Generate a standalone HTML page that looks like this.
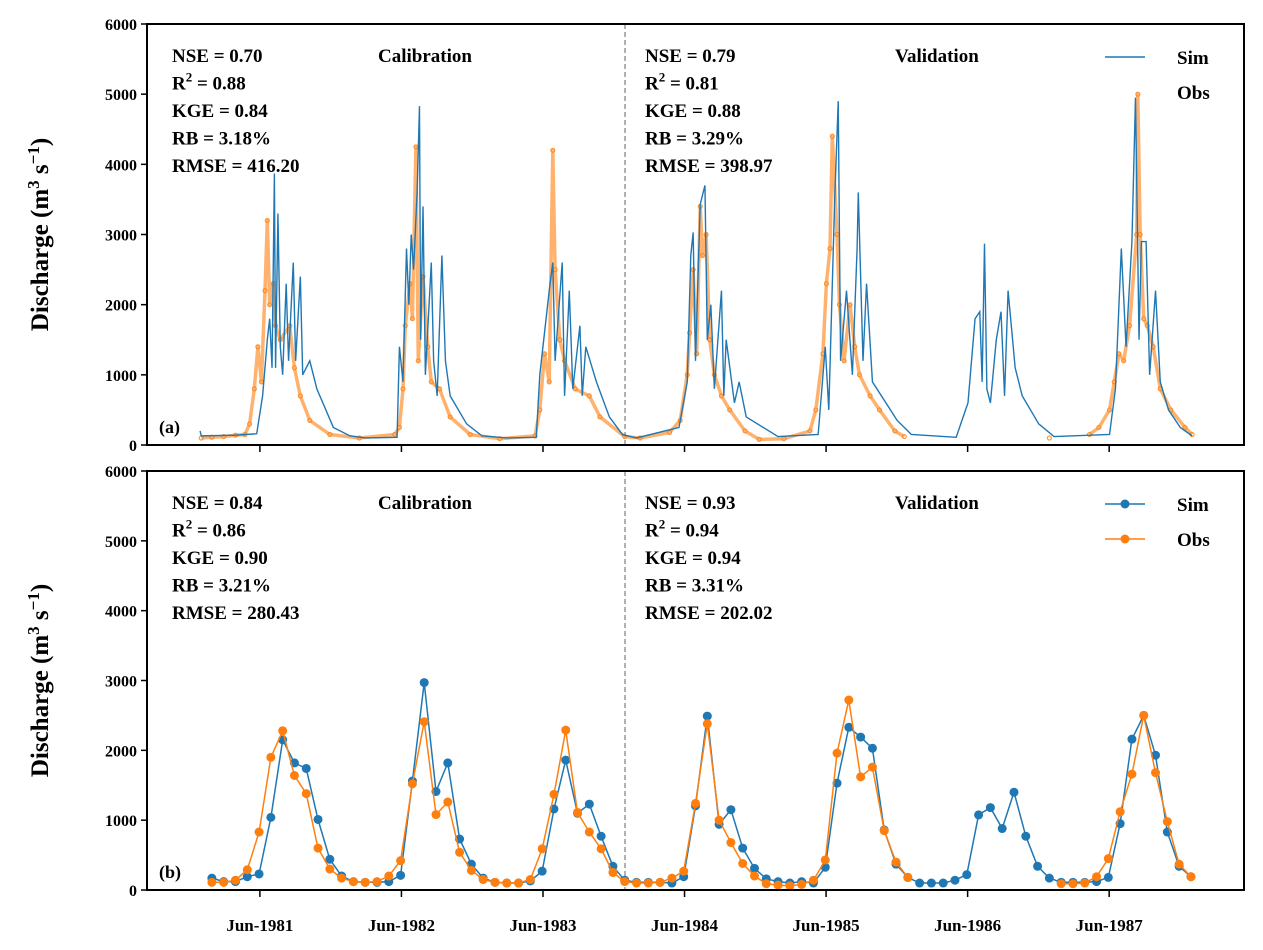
<!DOCTYPE html>
<html><head><meta charset="utf-8"><style>
body{margin:0;background:#fff}
svg{display:block;font-family:"Liberation Serif",serif;font-weight:bold}
</style></head><body>
<svg id="chart" width="1263" height="950"></svg>
<script>
// ---- data ----
const simDailyT=[-1,-0.9,2,3.8,4.3,4.7,4.9,5.1,5.3,5.4,5.6,5.8,6.0,6.3,6.5,6.9,7.1,7.5,7.7,8.3,8.9,10.3,11.7,13,15.7,15.9,16.2,16.5,16.7,16.9,17.1,17.4,17.6,17.7,17.9,18.1,18.6,18.8,19.1,19.5,19.8,20.2,21.6,22.9,25,27.5,27.8,28.6,28.9,29.1,29.7,29.9,30.3,30.6,31.2,31.4,31.7,32.6,33.7,34.8,36,39.6,40.3,40.6,40.8,41.0,41.4,41.8,42.0,42.3,42.6,43.2,43.4,43.6,44.3,44.7,45.3,48.0,51.4,52.0,52.3,52.8,53.1,53.3,53.8,54.3,54.7,54.8,55.2,55.5,56.0,58.1,59.3,63.1,64.1,64.7,65.1,65.3,65.5,65.7,66.0,66.5,66.9,67.2,67.5,68.1,68.7,70.1,71.4,76.1,76.6,77.1,77.5,78.0,78.3,78.6,78.8,79.2,79.5,80.0,80.4,81.1,82.1,83.1];
const simDailyV=[200,130,140,160,700,1500,1800,1100,3870,1100,3300,1400,1000,2300,1200,2600,1200,2400,1000,1200,800,250,130,100,110,1400,900,2800,2000,3000,2500,3600,4830,1500,3400,1000,2600,1200,700,2700,1200,700,300,130,100,110,1000,2200,2600,1200,2600,700,2200,800,1700,700,1400,900,400,150,100,250,900,2700,3030,1200,3430,3700,1500,2000,800,2200,700,1500,600,900,400,120,150,1400,500,3500,4900,1200,2200,1000,2800,3600,1200,2300,900,350,150,110,600,1800,1900,900,2870,800,600,1500,1900,700,2200,1100,700,300,120,150,800,2800,1400,2900,4950,1500,2900,2900,1000,2200,900,500,250,130];
const obsDailyT=[-0.9,0,1,2,2.8,3.2,3.6,3.9,4.2,4.5,4.7,4.9,5.2,5.4,5.8,6.6,7.0,7.5,8.3,10.0,12.5,15.5,15.9,16.2,16.4,16.8,17.0,17.3,17.5,17.9,18.3,18.6,19.3,20.2,21.9,24.4,27.4,27.8,28.2,28.6,28.9,29.1,29.5,29.9,30.8,32.0,32.9,35.0,36.3,38.8,39.7,40.3,40.5,40.8,41.1,41.4,41.6,41.9,42.2,42.6,43.2,43.9,45.2,46.4,48.5,50.7,51.2,51.8,52.1,52.4,52.6,53.0,53.2,53.6,54.1,54.5,54.9,55.8,56.6,57.9,58.7,71.0,74.4,75.2,76.1,76.5,76.9,77.3,77.8,78.4,78.5,78.7,79.0,79.3,79.8,80.4,81.3,82.5,83.1];
const obsDailyV=[100,110,120,140,150,300,800,1400,900,2200,3200,2000,2300,1700,1500,1700,1100,700,350,150,100,150,250,800,1700,2300,1800,4250,1200,2400,1400,900,800,400,150,90,130,500,1300,900,4200,2500,1500,1200,800,700,400,120,100,180,350,1000,1600,2500,1300,3400,2700,3000,1500,1000,700,500,200,80,90,200,500,1300,2300,2800,4400,3000,2000,1200,2000,1400,1000,700,500,200,120,100,150,250,500,900,1300,1200,1700,3000,5000,3000,1800,1700,1400,800,500,250,150];
const simMonthly=[170,120,120,190,230,1040,2150,1820,1740,1010,440,200,120,110,110,120,210,1560,2970,1410,1820,730,370,170,110,100,100,130,270,1160,1860,1100,1230,770,340,140,110,110,110,100,190,1205,2490,940,1150,600,310,160,120,100,120,100,325,1530,2330,2190,2030,860,370,180,100,100,100,140,220,1075,1180,880,1400,770,340,170,110,110,110,120,180,950,2160,2500,1930,830,340,190];
const obsMonthly=[110,110,140,290,830,1900,2280,1640,1380,600,300,170,120,110,120,200,420,1520,2410,1080,1260,540,280,150,110,100,100,150,590,1370,2290,1110,830,590,250,120,100,100,110,170,270,1240,2380,1000,680,380,200,90,70,60,80,140,430,1960,2720,1620,1760,850,400,180,null,null,null,null,null,null,null,null,null,null,null,null,90,90,100,190,450,1120,1660,2500,1680,980,370,190];
const yTicks=[0,1000,2000,3000,4000,5000,6000];
const xTickLabels=["Jun-1981","Jun-1982","Jun-1983","Jun-1984","Jun-1985","Jun-1986","Jun-1987"];
const statsA=["NSE = 0.70","R²|0.88","KGE = 0.84","RB = 3.18%","RMSE = 416.20"];
const statsA2=["NSE = 0.79","R²|0.81","KGE = 0.88","RB = 3.29%","RMSE = 398.97"];
const statsB=["NSE = 0.84","R²|0.86","KGE = 0.90","RB = 3.21%","RMSE = 280.43"];
const statsB2=["NSE = 0.93","R²|0.94","KGE = 0.94","RB = 3.31%","RMSE = 202.02"];

const NS="http://www.w3.org/2000/svg";
const svg=document.getElementById('chart');
const BLUE="#1f77b4",ORANGE="#ff7f0e";
const X0=147,X1=1244,T0=-5.5,T1=87.5;
const xs=t=>X0+(t-T0)/(T1-T0)*(X1-X0);
function mk(tag,attrs,parent){const e=document.createElementNS(NS,tag);for(const k in attrs)e.setAttribute(k,attrs[k]);(parent||svg).appendChild(e);return e;}
function panel(top,bottom,tag,sA,sB,legendDots){
  const ys=v=>bottom-v/6000*(bottom-top);
  const g=mk('g',{});
  
  
  yTicks.forEach(v=>{
    const l=mk('line',{x1:X0-6,x2:X0,y1:ys(v),y2:ys(v),stroke:'#000','stroke-width':1.5},g);
    
    
    const t=mk('text',{x:X0-10,y:ys(v)+6,'text-anchor':'end','font-size':16},g);
    t.textContent=v;
    
    
  });
  xTickLabels.forEach((lab,k)=>{
    const tx=xs(4.07+12*k);
    const l=mk('line',{x1:tx,x2:tx,y1:bottom,y2:bottom+7,stroke:'#000','stroke-width':1.5},g);
    
    
    if(tag==='b'){
      const t=mk('text',{x:tx,y:bottom+41,'text-anchor':'middle','font-size':17},g);
      t.textContent=lab;
      
      
    }
  });
  const yt=mk('text',{transform:`translate(48,${(top+bottom)/2}) rotate(-90)`,'text-anchor':'middle','font-size':25},g);
  yt.innerHTML='Discharge (m<tspan font-size="17" dy="-9">3</tspan><tspan dy="9"> s</tspan><tspan font-size="17" dy="-9">−1</tspan><tspan dy="9">)</tspan>';
  
  
  const dl=mk('line',{x1:625,x2:625,y1:top,y2:bottom,stroke:'#888','stroke-width':1.3,'stroke-dasharray':'5,3'},g);
  
  
  function stats(arr,x){
    arr.forEach((s,i)=>{
      const t=mk('text',{x:x,y:top+38+i*27.5,'font-size':19},g);
      if(s.indexOf('|')>=0){t.innerHTML='R<tspan font-size="13" dy="-8">2</tspan><tspan dy="8"> = '+s.split('|')[1]+'</tspan>';}
      else t.textContent=s;
      
      
    });
  }
  stats(sA,172);stats(sB,645);
  const c1=mk('text',{x:378,y:top+38,'font-size':19},g);c1.textContent='Calibration';
  
  
  const c2=mk('text',{x:895,y:top+38,'font-size':19},g);c2.textContent='Validation';
  
  
  const pl=mk('text',{x:159,y:bottom-12,'font-size':18},g);pl.textContent='('+tag+')';
  
  
  [[BLUE,'Sim',top+33],[ORANGE,'Obs',top+68]].forEach(([c,n,y],i)=>{
    if(legendDots||i===0){
      const l=mk('line',{x1:1105,x2:1145,y1:y,y2:y,stroke:c,'stroke-width':1.5},g);
      
      
    }
    if(legendDots){const d=mk('circle',{cx:1125,cy:y,r:4.5,fill:c},g);
      
      }
    const t=mk('text',{x:1177,y:y+7,'font-size':19},g);t.textContent=n;
    
    
  });
  return ys;
}
const ysA=panel(24,445,'a',statsA,statsA2,false);
let ob='';let prev=null;
obsDailyT.forEach((t,i)=>{const p=xs(t).toFixed(1)+','+ysA(obsDailyV[i]).toFixed(1);ob+=(prev===null||t-prev>3?'M':'L')+p;prev=t;});
const obBand=mk('path',{d:ob,fill:'none',stroke:ORANGE,'stroke-width':3.5,'stroke-opacity':0.6,'stroke-linejoin':'round'});


obsDailyT.forEach((t,i)=>{
  const c=mk('circle',{cx:xs(t),cy:ysA(obsDailyV[i]),r:2,fill:'none',stroke:ORANGE,'stroke-width':1.2,'stroke-opacity':0.8});
  
  
});
const simA=mk('polyline',{points:simDailyT.map((t,i)=>xs(t)+','+ysA(simDailyV[i])).join(' '),fill:'none',stroke:BLUE,'stroke-width':1.4});


const ysB=panel(471,890,'b',statsB,statsB2,true);
function series(arr,color,name){
  let d='',pen=false;
  arr.forEach((v,i)=>{if(v===null){pen=false;return;}d+=(pen?'L':'M')+xs(i).toFixed(1)+','+ysB(v).toFixed(1);pen=true;});
  const p=mk('path',{d:d,fill:'none',stroke:color,'stroke-width':1.5});
  
  
  arr.forEach((v,i)=>{if(v===null)return;
    const c=mk('circle',{cx:xs(i),cy:ysB(v),r:4.5,fill:color});
    
    
  });
}
series(simMonthly,BLUE,'sim-monthly');
series(obsMonthly,ORANGE,'obs-monthly');
[[24,445],[471,890]].forEach(([a,b])=>{
  const r=mk('rect',{x:X0,y:a,width:X1-X0,height:b-a,fill:'none',stroke:'#000','stroke-width':2});
  
  
});
</script>
</body></html>
